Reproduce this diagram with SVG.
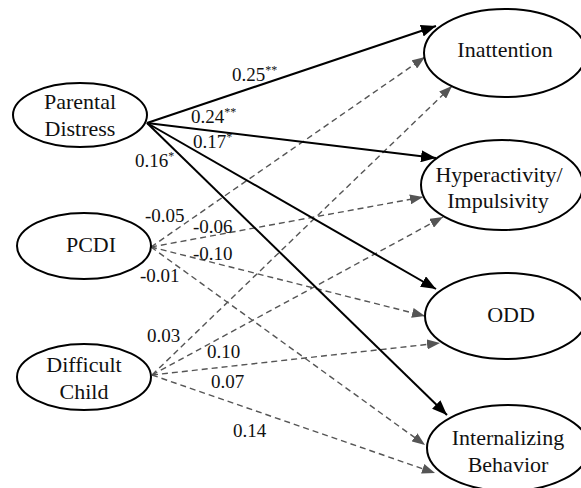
<svg xmlns="http://www.w3.org/2000/svg" width="581" height="488" viewBox="0 0 581 488">
<style>
.node ellipse{fill:#fff;stroke:#000;stroke-width:2}
.node text{font-family:"Liberation Serif","Times New Roman",serif;font-size:22px;fill:#111;text-anchor:middle}
.lbl{font-family:"Liberation Serif","Times New Roman",serif;font-size:19px;fill:#111}
.lbl tspan.s{font-size:12px}
.solid{stroke:#000;stroke-width:2;fill:none;marker-end:url(#ah)}
.dash{stroke:#555;stroke-width:1.4;stroke-dasharray:6,4;fill:none;marker-end:url(#ahd)}
</style>
<defs>
<marker id="ah" markerUnits="userSpaceOnUse" markerWidth="16" markerHeight="12" refX="15" refY="6" orient="auto"><path d="M0,0 L15,6 L0,12 Z" fill="#000"/></marker>
<marker id="ahd" markerUnits="userSpaceOnUse" markerWidth="14" markerHeight="10" refX="13" refY="5" orient="auto"><path d="M0,0 L13,5 L0,10 Z" fill="#555"/></marker>
</defs>
<rect width="581" height="488" fill="#fff"/>
<g id="connectors">
<line class="dash" x1="151" y1="247" x2="425" y2="57"/>
<line class="dash" x1="151" y1="247" x2="423" y2="197"/>
<line class="dash" x1="151" y1="247" x2="425" y2="316"/>
<line class="dash" x1="151" y1="247" x2="425" y2="445"/>
<line class="dash" x1="152" y1="375" x2="452" y2="86"/>
<line class="dash" x1="152" y1="375" x2="443" y2="217"/>
<line class="dash" x1="152" y1="375" x2="440" y2="343"/>
<line class="dash" x1="152" y1="375" x2="435" y2="473"/>
<line class="solid" x1="147" y1="123" x2="436" y2="26"/>
<line class="solid" x1="147" y1="123" x2="436" y2="158"/>
<line class="solid" x1="147" y1="123" x2="436" y2="289"/>
<line class="solid" x1="147" y1="123" x2="447" y2="415"/>
</g>
<g id="labels">
<text class="lbl" x="232" y="81">0.25<tspan class="s" dy="-7">**</tspan></text>
<text class="lbl" x="191" y="123">0.24<tspan class="s" dy="-7">**</tspan></text>
<text class="lbl" x="193" y="148">0.17<tspan class="s" dy="-7">*</tspan></text>
<text class="lbl" x="135" y="167">0.16<tspan class="s" dy="-7">*</tspan></text>
<text class="lbl" x="145" y="222">-0.05</text>
<text class="lbl" x="193" y="233">-0.06</text>
<text class="lbl" x="193" y="260">-0.10</text>
<text class="lbl" x="140" y="282">-0.01</text>
<text class="lbl" x="147" y="342">0.03</text>
<text class="lbl" x="207" y="358">0.10</text>
<text class="lbl" x="211" y="388">0.07</text>
<text class="lbl" x="233" y="437">0.14</text>
</g>
<g id="parental-distress" class="node"><ellipse cx="80" cy="115" rx="67" ry="32"/><text x="80" y="109">Parental</text><text x="80" y="136">Distress</text></g>
<g id="pcdi" class="node"><ellipse cx="84" cy="246" rx="67" ry="33"/><text x="91" y="252">PCDI</text></g>
<g id="difficult-child" class="node"><ellipse cx="84" cy="377" rx="67" ry="33"/><text x="84" y="372">Difficult</text><text x="84" y="399">Child</text></g>
<g id="inattention" class="node"><ellipse cx="505" cy="53" rx="81" ry="44"/><text x="505" y="57">Inattention</text></g>
<g id="hyperactivity" class="node"><ellipse cx="502" cy="185" rx="81" ry="45"/><text x="499" y="182">Hyperactivity/</text><text x="498" y="208">Impulsivity</text></g>
<g id="odd" class="node"><ellipse cx="506" cy="316" rx="81" ry="43"/><text x="511" y="322">ODD</text></g>
<g id="internalizing" class="node"><ellipse cx="508" cy="448" rx="81" ry="43"/><text x="508" y="445">Internalizing</text><text x="508" y="472">Behavior</text></g>
</svg>
